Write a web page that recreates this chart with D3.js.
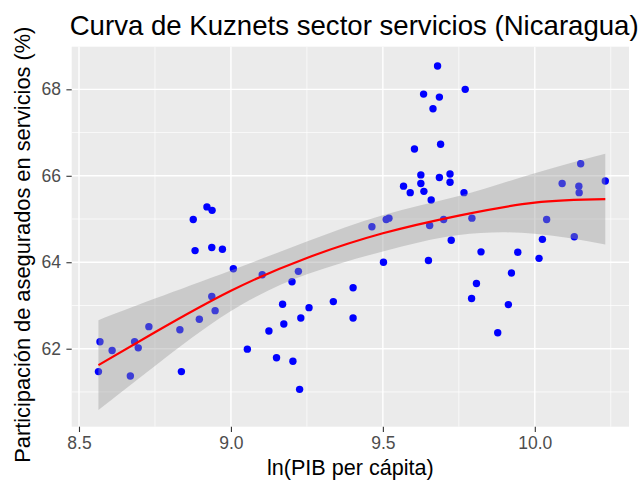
<!DOCTYPE html>
<html lang="es">
<head>
<meta charset="UTF-8">
<title>Curva de Kuznets</title>
<script src="https://d3js.org/d3.v7.min.js"></script>
<style>
body { margin: 0; background: #fff; }
svg text { font-family: "Liberation Sans", Arial, sans-serif; }
</style>
</head>
<body>
<div id="chart"></div>
<script>
// puntos: ln(PIB per capita) y participacion de asegurados (%)
var lnPib = [8.564, 8.569, 8.609, 8.669, 8.683, 8.695, 8.730, 8.832, 8.837, 8.876,
  8.882, 8.896, 8.921, 8.938, 8.937, 8.937, 8.948, 8.972, 9.008, 9.054,
  9.103, 9.125, 9.150, 9.170, 9.174, 9.201, 9.204, 9.222, 9.226, 9.230,
  9.257, 9.337, 9.402, 9.402, 9.464, 9.502, 9.511, 9.520, 9.568, 9.590,
  9.604, 9.625, 9.625, 9.634, 9.635, 9.650, 9.654, 9.659, 9.665, 9.680,
  9.686, 9.686, 9.690, 9.700, 9.721, 9.721, 9.725, 9.767, 9.771, 9.793,
  9.792, 9.808, 9.823, 9.878, 9.913, 9.923, 9.944, 10.014, 10.025, 10.039,
  10.090, 10.130, 10.145, 10.146, 10.151, 10.232];
var asegurados = [61.47, 62.16, 61.96, 61.37, 62.16, 62.02, 62.51, 62.44, 61.47, 64.99,
  64.27, 62.68, 65.28, 65.20, 64.34, 63.21, 62.88, 64.30, 63.85, 61.99,
  63.71, 62.41, 61.79, 63.03, 62.57, 63.55, 61.71, 63.79, 61.06, 62.71,
  62.95, 63.09, 63.41, 62.71, 64.82, 64.00, 64.99, 65.02, 65.76, 65.61,
  66.62, 66.02, 65.82, 67.89, 65.64, 64.04, 64.85, 65.44, 67.55, 68.54,
  67.82, 65.96, 66.73, 64.99, 66.04, 65.85, 64.51, 65.61, 68.00, 65.02,
  63.16, 63.51, 64.24, 62.37, 63.02, 63.75, 64.23, 64.09, 64.53, 64.99,
  65.82, 64.59, 65.76, 65.61, 66.28, 65.88];

// curva ajustada y banda de confianza
var curvaX = [8.564, 8.75, 9.0, 9.25, 9.5, 9.75, 10.0, 10.232];
var curvaY = [61.62, 62.38, 63.34, 64.10, 64.67, 65.08, 65.38, 65.46];
var bandaInf = [60.58, 61.60, 62.87, 63.72, 64.25, 64.63, 64.66, 64.41];
var bandaSup = [62.66, 63.16, 63.81, 64.48, 65.09, 65.53, 66.06, 66.51];

var xTicks = [8.5, 9.0, 9.5, 10.0];
var xMinor = [8.75, 9.25, 9.75, 10.25];
var yTicks = [62, 64, 66, 68];
var yMinor = [61, 63, 65, 67];

var width = 643, height = 482;
var margin = {top: 46.7, right: 14, bottom: 55.3, left: 71.7};
var pw = width - margin.left - margin.right,
    ph = height - margin.top - margin.bottom;

var svg = d3.select("#chart").append("svg")
  .attr("width", width).attr("height", height);

var x = d3.scaleLinear().domain([8.476, 10.310]).range([0, pw]);
var y = d3.scaleLinear().domain([60.196, 68.986]).range([ph, 0]);

var g = svg.append("g")
  .attr("transform", "translate(" + margin.left + "," + margin.top + ")");

// panel
g.append("rect").attr("width", pw).attr("height", ph).attr("fill", "#EBEBEB");

// grid menor
g.selectAll(".vmin").data(xMinor).enter().append("line")
  .attr("x1", d => x(d)).attr("x2", d => x(d)).attr("y1", 0).attr("y2", ph)
  .attr("stroke", "#fff").attr("stroke-width", 0.7);
g.selectAll(".hmin").data(yMinor).enter().append("line")
  .attr("y1", d => y(d)).attr("y2", d => y(d)).attr("x1", 0).attr("x2", pw)
  .attr("stroke", "#fff").attr("stroke-width", 0.7);
// grid mayor
g.selectAll(".vmaj").data(xTicks).enter().append("line")
  .attr("x1", d => x(d)).attr("x2", d => x(d)).attr("y1", 0).attr("y2", ph)
  .attr("stroke", "#fff").attr("stroke-width", 1.4);
g.selectAll(".hmaj").data(yTicks).enter().append("line")
  .attr("y1", d => y(d)).attr("y2", d => y(d)).attr("x1", 0).attr("x2", pw)
  .attr("stroke", "#fff").attr("stroke-width", 1.4);

// puntos
g.selectAll(".pt").data(lnPib).enter().append("circle")
  .attr("cx", d => x(d))
  .attr("cy", (d, i) => y(asegurados[i]))
  .attr("r", 3.7)
  .attr("fill", "#0000FF");

// banda
var area = d3.area()
  .x((d, i) => x(curvaX[i]))
  .y0((d, i) => y(bandaInf[i]))
  .y1((d, i) => y(bandaSup[i]))
  .curve(d3.curveNatural);
g.append("path").datum(curvaX).attr("d", area)
  .attr("fill", "#999999").attr("fill-opacity", 0.4);

// curva
var line = d3.line()
  .x((d, i) => x(curvaX[i]))
  .y((d, i) => y(curvaY[i]))
  .curve(d3.curveNatural);
g.append("path").datum(curvaX).attr("d", line)
  .attr("fill", "none").attr("stroke", "red").attr("stroke-width", 2.2);

// ejes
var xAxis = g.append("g").attr("transform", "translate(0," + ph + ")")
  .call(d3.axisBottom(x).tickValues(xTicks).tickFormat(d3.format(".1f"))
    .tickSize(5.3).tickPadding(4.5));
var yAxis = g.append("g")
  .call(d3.axisLeft(y).tickValues(yTicks).tickFormat(d3.format("d"))
    .tickSize(5.3).tickPadding(5.5));
[xAxis, yAxis].forEach(function(a) {
  a.select(".domain").remove();
  a.selectAll(".tick line").attr("stroke", "#333333").attr("stroke-width", 1.1);
  a.selectAll(".tick text").attr("fill", "#4D4D4D")
    .style("font-size", "17.5px").style("font-family", "'Liberation Sans', Arial, sans-serif");
});

// titulos
svg.append("text")
  .attr("x", margin.left - 2).attr("y", 35)
  .style("font-size", "27.6px")
  .text("Curva de Kuznets sector servicios (Nicaragua)");

svg.append("text")
  .attr("x", margin.left + pw / 2).attr("y", 475)
  .attr("text-anchor", "middle")
  .style("font-size", "21.6px")
  .text("ln(PIB per cápita)");

svg.append("text")
  .attr("transform", "translate(30," + (margin.top + ph / 2 + 8) + ") rotate(-90)")
  .attr("text-anchor", "middle")
  .style("font-size", "21.8px")
  .text("Participación de asegurados en servicios (%)");
</script>
</body>
</html>
